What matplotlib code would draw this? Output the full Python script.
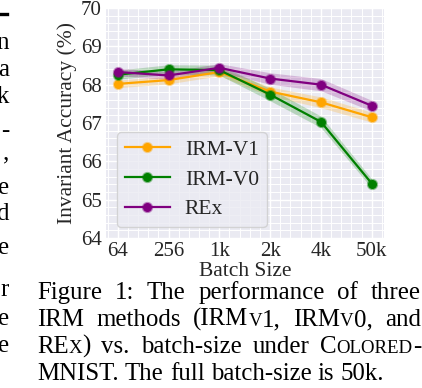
import matplotlib
matplotlib.use("Agg")
import matplotlib.pyplot as plt
from matplotlib.ticker import MultipleLocator
from matplotlib.colors import to_rgba
from matplotlib.lines import Line2D
import numpy as np

plt.rcParams['font.family'] = ['Liberation Serif', 'DejaVu Serif']

# ---------------- data ----------------
batch_labels = ['64', '256', '1k', '2k', '4k', '50k']
irm_v1 = [68.02, 68.12, 68.33, 67.82, 67.54, 67.15]
irm_v0 = [68.26, 68.40, 68.38, 67.74, 67.03, 65.42]
rex = [68.33, 68.24, 68.44, 68.16, 68.00, 67.45]
irm_v1_err = [0.10, 0.10, 0.10, 0.12, 0.14, 0.13]
irm_v0_err = [0.12, 0.12, 0.13, 0.16, 0.15, 0.12]
rex_err = [0.10, 0.10, 0.11, 0.15, 0.16, 0.14]
series_names = ['IRM-V1', 'IRM-V0', 'REx']
series_colors = ['orange', 'green', 'purple']
y_ticks = [64, 65, 66, 67, 68, 69, 70]

W, H = 422, 388
fig = plt.figure(figsize=(W / 100, H / 100), dpi=100)
fig.patch.set_facecolor('white')

ax = fig.add_axes([106 / W, 1 - 238 / H, (384 - 106) / W, (238 - 8) / H])
ax.set_facecolor('#EAEAF2')
for s in ax.spines.values():
    s.set_visible(False)

x = np.arange(len(batch_labels))
for vals, errs, name, col in zip([irm_v1, irm_v0, rex], [irm_v1_err, irm_v0_err, rex_err],
                                 series_names, series_colors):
    v = np.array(vals); e = np.array(errs)
    ax.fill_between(x, v - e, v + e, color=col, alpha=0.22, lw=0, zorder=2)
    ax.plot(x, v, color=col, lw=1.6, marker='o', markersize=6.5,
            markerfacecolor=col, markeredgecolor=to_rgba(col, 0.45),
            markeredgewidth=1.6, label=name, zorder=3)

ax.set_xlim(-0.23, 5.24)
ax.set_ylim(64, 70)
ax.set_xticks(x)
ax.set_xticklabels(batch_labels)
ax.set_yticks(y_ticks)
ax.xaxis.set_minor_locator(MultipleLocator(0.2))
ax.yaxis.set_minor_locator(MultipleLocator(0.2))
ax.grid(which='major', color='white', lw=1.0, zorder=1)
ax.grid(which='minor', color='white', lw=0.7, zorder=1)
ax.set_axisbelow(True)
ax.tick_params(which='both', length=0, labelsize=15, labelcolor='#262626', pad=3)

ax.set_xlabel('Batch Size', fontsize=15.5, color='#262626')
ax.set_ylabel('Invariant Accuracy (%)', fontsize=15.5, color='#262626')
ax.xaxis.set_label_coords(0.5, -0.145)
ax.xaxis.label.set_va('center')
ax.yaxis.set_label_coords(-0.14, 0.5)
ax.yaxis.label.set_va('center')

leg = ax.legend(loc='lower left', bbox_to_anchor=(0.04, 0.048), borderaxespad=0,
                fontsize=15.5, handlelength=2.1, handletextpad=0.7, labelspacing=0.45,
                frameon=True, fancybox=True, borderpad=0.35)
leg.get_frame().set_facecolor('#EAEAF2')
leg.get_frame().set_edgecolor('#CCCCCC')
leg.get_frame().set_alpha(0.8)
for t in leg.get_texts():
    t.set_color('#262626')

# ---------------- caption & cut-off neighbour column ----------------
def fx(px):
    return px / W

def fy(py):
    return 1 - py / H

renderer = fig.canvas.get_renderer()
CAP = 17.9
SC = 0.76

def make_word(pieces):
    objs = []
    for txt, small in pieces:
        t = fig.text(0, 0, txt, fontsize=CAP * (SC if small else 1.0), color='black',
                     va='baseline', ha='left')
        objs.append(t)
    return objs

def word_width(objs):
    return sum(o.get_window_extent(renderer).width for o in objs)

t1 = fig.text(0, 0, 'a b', fontsize=CAP)
t2 = fig.text(0, 0, 'ab', fontsize=CAP)
SPACE = t1.get_window_extent(renderer).width - t2.get_window_extent(renderer).width
t1.remove(); t2.remove()

def place_line(words, y_base, x0, x1, justify=True):
    objs = [make_word(w) for w in words]
    widths = [word_width(o) for o in objs]
    if justify and len(words) > 1:
        gap = (x1 - x0 - sum(widths)) / (len(words) - 1)
    else:
        gap = SPACE
    cx = x0
    for o, w in zip(objs, widths):
        px = cx
        for piece in o:
            piece.set_position((fx(px), fy(y_base)))
            px += piece.get_window_extent(renderer).width
        cx += w + gap

N = False
S = True
lines = [
    [[('Figure', N)], [('1:', N)], [('The', N)], [('performance', N)], [('of', N)], [('three', N)]],
    [[('IRM', N)], [('methods', N)], [('(IRM', N), ('V', S), ('1,', N)], [('IRM', N), ('V', S), ('0,', N)], [('and', N)]],
    [[('RE', N), ('X', S), (')', N)], [('vs.', N)], [('batch-size', N)], [('under', N)],
     [('C', N), ('OLORED', S), ('-', N)]],
    [[('MNIST.', N)], [('The', N)], [('full', N)], [('batch-size', N)], [('is', N)], [('50k.', N)]],
]
baselines = [299, 326, 353, 380]
for i, ln in enumerate(lines):
    place_line(ln, baselines[i], 37, 421, justify=(i < 3))

frag_chars = ['n', 'a', 'k', '-', ',', 'e', 'd', 'e', 'r', 'e', 'e']
frag_base = [49, 76, 103, 137, 159, 194, 220, 254, 296, 325, 352]
for c, b in zip(frag_chars, frag_base):
    fig.text(fx(9), fy(b), c, fontsize=CAP, ha='right', va='baseline', color='black')
fig.add_artist(Line2D([0, fx(7)], [fy(13.5), fy(13.5)], lw=2.4, color='black',
                      transform=fig.transFigure))

fig.savefig('out.png', dpi=100, facecolor='white')
